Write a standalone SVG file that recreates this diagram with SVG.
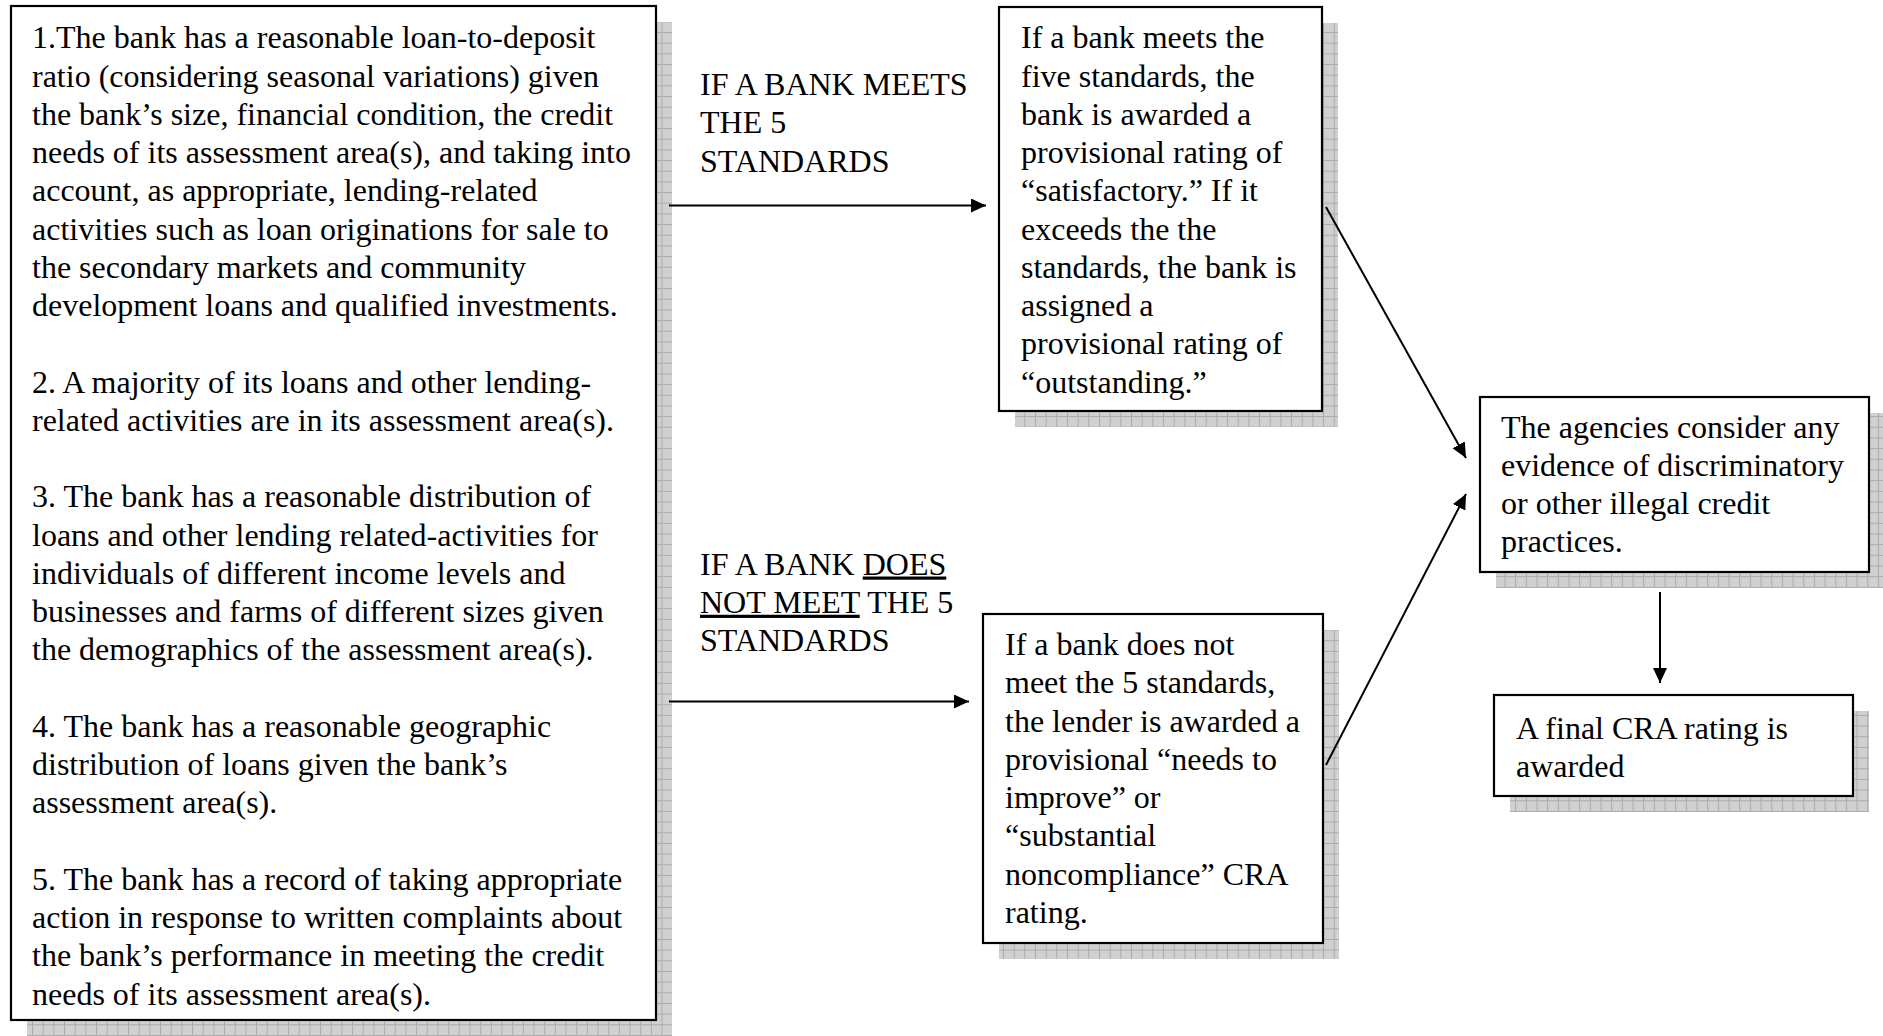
<svg xmlns="http://www.w3.org/2000/svg" width="1883" height="1036" viewBox="0 0 1883 1036">
  <defs>
    <pattern id="grid" patternUnits="userSpaceOnUse" width="10.67" height="10.67">
      <rect width="10.67" height="10.67" fill="#d0d0d0"/>
      <path d="M0.5,0 V10.67 M0,0.5 H10.67" stroke="#ababab" stroke-width="1" fill="none"/>
    </pattern>
    <marker id="arrow" markerUnits="userSpaceOnUse" markerWidth="16" markerHeight="15" refX="15" refY="7" orient="auto">
      <path d="M0,0 L15,7 L0,14 z" fill="#000"/>
    </marker>
  </defs>
  <style>
    .shadow { fill: url(#grid); }
    .box { fill: #fff; stroke: #000; stroke-width: 2.2; }
    .t { font-family: "Liberation Serif", "Times New Roman", serif; font-size: 32px; fill: #000; }
    .conn { stroke: #000; stroke-width: 2; fill: none; marker-end: url(#arrow); }
    .u { text-decoration: underline; }
  </style>
  <rect width="1883" height="1036" fill="#fff"/>

  <g id="standards">
    <rect class="shadow" x="27" y="22" width="645" height="1014"/>
    <rect class="box" x="11" y="6" width="645" height="1014"/>
    <text class="t">
      <tspan x="32" y="48.3">1.The bank has a reasonable loan-to-deposit</tspan>
      <tspan x="32" y="86.55">ratio (considering seasonal variations) given</tspan>
      <tspan x="32" y="124.8">the bank’s size, financial condition, the credit</tspan>
      <tspan x="32" y="163.05">needs of its assessment area(s), and taking into</tspan>
      <tspan x="32" y="201.3">account, as appropriate, lending-related</tspan>
      <tspan x="32" y="239.55">activities such as loan originations for sale to</tspan>
      <tspan x="32" y="277.8">the secondary markets and community</tspan>
      <tspan x="32" y="316.05">development loans and qualified investments.</tspan>
      <tspan x="32" y="392.55">2. A majority of its loans and other lending-</tspan>
      <tspan x="32" y="430.8">related activities are in its assessment area(s).</tspan>
      <tspan x="32" y="507.3">3. The bank has a reasonable distribution of</tspan>
      <tspan x="32" y="545.55">loans and other lending related-activities for</tspan>
      <tspan x="32" y="583.8">individuals of different income levels and</tspan>
      <tspan x="32" y="622.05">businesses and farms of different sizes given</tspan>
      <tspan x="32" y="660.3">the demographics of the assessment area(s).</tspan>
      <tspan x="32" y="736.8">4. The bank has a reasonable geographic</tspan>
      <tspan x="32" y="775.05">distribution of loans given the bank’s</tspan>
      <tspan x="32" y="813.3">assessment area(s).</tspan>
      <tspan x="32" y="889.8">5. The bank has a record of taking appropriate</tspan>
      <tspan x="32" y="928.05">action in response to written complaints about</tspan>
      <tspan x="32" y="966.3">the bank’s performance in meeting the credit</tspan>
      <tspan x="32" y="1004.55">needs of its assessment area(s).</tspan>
    </text>
  </g>

  <g id="meets">
    <rect class="shadow" x="1015" y="23" width="323" height="404"/>
    <rect class="box" x="999" y="7" width="323" height="404"/>
    <text class="t">
      <tspan x="1021" y="48.3">If a bank meets the</tspan>
      <tspan x="1021" y="86.55">five standards, the</tspan>
      <tspan x="1021" y="124.8">bank is awarded a</tspan>
      <tspan x="1021" y="163.05">provisional rating of</tspan>
      <tspan x="1021" y="201.3">“satisfactory.” If it</tspan>
      <tspan x="1021" y="239.55">exceeds the the</tspan>
      <tspan x="1021" y="277.8">standards, the bank is</tspan>
      <tspan x="1021" y="316.05">assigned a</tspan>
      <tspan x="1021" y="354.3">provisional rating of</tspan>
      <tspan x="1021" y="392.55">“outstanding.”</tspan>
    </text>
  </g>

  <g id="not-meets">
    <rect class="shadow" x="999" y="630" width="340" height="329"/>
    <rect class="box" x="983" y="614" width="340" height="329"/>
    <text class="t">
      <tspan x="1005" y="655">If a bank does not</tspan>
      <tspan x="1005" y="693.25">meet the 5 standards,</tspan>
      <tspan x="1005" y="731.5">the lender is awarded a</tspan>
      <tspan x="1005" y="769.75">provisional “needs to</tspan>
      <tspan x="1005" y="808">improve” or</tspan>
      <tspan x="1005" y="846.25">“substantial</tspan>
      <tspan x="1005" y="884.5">noncompliance” CRA</tspan>
      <tspan x="1005" y="922.75">rating.</tspan>
    </text>
  </g>

  <g id="agencies">
    <rect class="shadow" x="1496" y="413" width="389" height="175"/>
    <rect class="box" x="1480" y="397" width="389" height="175"/>
    <text class="t">
      <tspan x="1501" y="437.5">The agencies consider any</tspan>
      <tspan x="1501" y="475.75">evidence of discriminatory</tspan>
      <tspan x="1501" y="514">or other illegal credit</tspan>
      <tspan x="1501" y="552.25">practices.</tspan>
    </text>
  </g>

  <g id="final">
    <rect class="shadow" x="1510" y="711" width="359" height="101"/>
    <rect class="box" x="1494" y="695" width="359" height="101"/>
    <text class="t">
      <tspan x="1516" y="739">A final CRA rating is</tspan>
      <tspan x="1516" y="777">awarded</tspan>
    </text>
  </g>

  <g id="label-meets">
    <text class="t">
      <tspan x="700" y="95">IF A BANK MEETS</tspan>
      <tspan x="700" y="133.25">THE 5</tspan>
      <tspan x="700" y="171.5">STANDARDS</tspan>
    </text>
  </g>

  <g id="label-not-meets">
    <text class="t">
      <tspan x="700" y="574.5">IF A BANK <tspan class="u">DOES</tspan></tspan>
      <tspan x="700" y="612.75"><tspan class="u">NOT MEET</tspan> THE 5</tspan>
      <tspan x="700" y="651">STANDARDS</tspan>
    </text>
  </g>

  <g id="connectors">
    <line class="conn" x1="669" y1="205.5" x2="986" y2="205.5"/>
    <line class="conn" x1="669" y1="701.5" x2="969" y2="701.5"/>
    <line class="conn" x1="1326" y1="207" x2="1466" y2="458"/>
    <line class="conn" x1="1326" y1="765" x2="1466" y2="494"/>
    <line class="conn" x1="1660" y1="592" x2="1660" y2="683"/>
  </g>
</svg>
